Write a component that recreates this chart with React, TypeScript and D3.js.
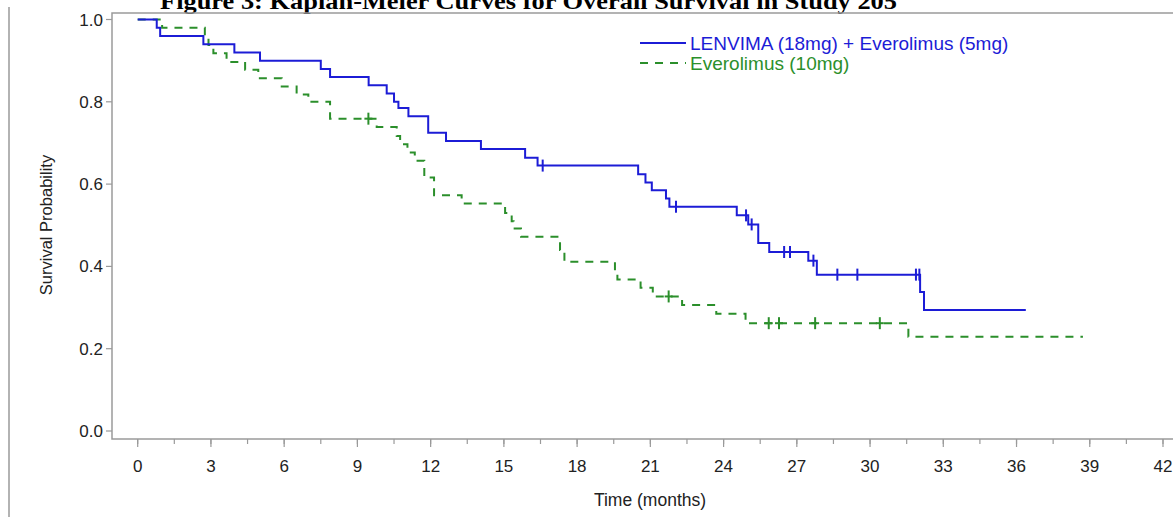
import * as d3 from 'd3';

// Kaplan-Meier steps: time (months) and survival after the event
const lenTimes = [0, 0.78, 0.92, 2.69, 3.96, 5.01, 7.5, 7.88, 9.46, 10.2, 10.5, 10.68, 11.09, 11.9, 12.63, 14.06, 15.87, 16.38, 20.5, 20.8, 21.06, 21.64, 21.78, 24.54, 25.01, 25.42, 25.87, 27.47, 27.82, 32.05, 32.21, 36.38];
const lenSurv = [1.0, 0.98, 0.96, 0.94, 0.92, 0.9, 0.88, 0.86, 0.84, 0.82, 0.8, 0.785, 0.765, 0.725, 0.705, 0.685, 0.664, 0.645, 0.624, 0.604, 0.585, 0.565, 0.545, 0.524, 0.502, 0.457, 0.435, 0.414, 0.38, 0.338, 0.294, 0.294];
const lenCensor = [16.59, 22.05, 24.92, 25.15, 26.48, 26.72, 27.68, 28.66, 29.48, 31.88, 32.02];

const eveTimes = [0, 1.0, 2.75, 2.9, 3.1, 3.64, 4.4, 4.94, 5.9, 6.51, 6.99, 7.88, 9.79, 10.61, 10.75, 11.05, 11.35, 11.74, 12.14, 13.27, 15.05, 15.32, 15.4, 15.7, 17.3, 17.48, 19.55, 19.65, 20.6, 21.1, 22.3, 23.7, 24.9, 31.57, 38.72];
const eveSurv = [1.0, 0.98, 0.958, 0.938, 0.918, 0.897, 0.878, 0.857, 0.837, 0.818, 0.8, 0.759, 0.739, 0.717, 0.697, 0.677, 0.657, 0.616, 0.573, 0.553, 0.53, 0.51, 0.492, 0.472, 0.44, 0.411, 0.39, 0.368, 0.348, 0.327, 0.306, 0.285, 0.262, 0.229, 0.229];
const eveCensor = [9.45, 21.75, 25.85, 26.27, 27.75, 30.4];

const xTicks = d3.range(0, 43, 3);
const xMinor = d3.range(0, 42.1, 1.5);
const yTicks = [0, 0.2, 0.4, 0.6, 0.8, 1.0];

const legendLabels = ['LENVIMA (18mg) + Everolimus (5mg)', 'Everolimus (10mg)'];
const title = 'Figure 3: Kaplan-Meier Curves for Overall Survival in Study 205';

const BLUE = '#1c1cd6';
const GREEN = '#2b8f2b';
const AXIS = '#9a9a9a';
const FONT = 'Arial, "Liberation Sans", sans-serif';

export default function App() {
    const x = d3.scaleLinear().domain([0, 42]).range([137.7, 1163]);
    const y = d3.scaleLinear().domain([0, 1]).range([431, 19.5]);

    const line = d3.line<[number, number]>()
        .x(d => x(d[0]))
        .y(d => y(d[1]))
        .curve(d3.curveStepAfter);

    const lenPts = lenTimes.map((t, i) => [t, lenSurv[i]] as [number, number]);
    const evePts = eveTimes.map((t, i) => [t, eveSurv[i]] as [number, number]);

    // survival at a censor time = last step at or before it
    const survAt = (times: number[], surv: number[], t: number) => {
        const i = d3.bisectRight(times, t) - 1;
        return surv[Math.max(0, i)];
    };

    const plusMark = (cx: number, cy: number, color: string, key: string) => (
        <g key={key} stroke={color} strokeWidth={2}>
            <line x1={cx} x2={cx} y1={cy - 6} y2={cy + 6} />
            <line x1={cx - 4} x2={cx + 4} y1={cy} y2={cy} />
        </g>
    );

    return (
        <svg width={1173} height={517} style={{ position: 'absolute', left: 0, top: 0, background: '#fff' }}>
            <text x={160} y={9} fontFamily='"Liberation Serif", "Times New Roman", serif' fontWeight="bold" fontSize={23} textLength={737} lengthAdjust="spacingAndGlyphs">{title}</text>

            {/* page edge */}
            <line x1={9} x2={9} y1={7} y2={517} stroke={AXIS} strokeWidth={1.5} />

            {/* frame */}
            <path d={`M1175,13 H112 V439 H1175`} fill="none" stroke={AXIS} strokeWidth={1.5} />

            {yTicks.map(v => (
                <g key={'y' + v}>
                    <line x1={106} x2={112} y1={y(v)} y2={y(v)} stroke={AXIS} strokeWidth={1.2} />
                    <text x={103} y={y(v) + 6} textAnchor="end" fontFamily={FONT} fontSize={17} fill="#222">{v.toFixed(1)}</text>
                </g>
            ))}
            <text transform={`translate(52,225) rotate(-90)`} textAnchor="middle" fontFamily={FONT} fontSize={16.5} fill="#222">Survival Probability</text>

            {xMinor.map(v => (
                <line key={'m' + v} x1={x(v)} x2={x(v)} y1={439} y2={444} stroke={AXIS} strokeWidth={1.2} />
            ))}
            {xTicks.map(v => (
                <g key={'x' + v}>
                    <line x1={x(v)} x2={x(v)} y1={439} y2={447} stroke={AXIS} strokeWidth={1.2} />
                    <text x={x(v)} y={472} textAnchor="middle" fontFamily={FONT} fontSize={17} fill="#222">{v}</text>
                </g>
            ))}
            <text x={650} y={506} textAnchor="middle" fontFamily={FONT} fontSize={17.5} fill="#222">Time (months)</text>

            <path d={line(evePts) || ''} fill="none" stroke={GREEN} strokeWidth={2} strokeDasharray="8,7" />
            <path d={line(lenPts) || ''} fill="none" stroke={BLUE} strokeWidth={2} />

            {eveCensor.map((t, i) => plusMark(x(t), y(survAt(eveTimes, eveSurv, t)), GREEN, 'ec' + i))}
            {lenCensor.map((t, i) => (
                <line key={'lc' + i} x1={x(t)} x2={x(t)} y1={y(survAt(lenTimes, lenSurv, t)) - 6} y2={y(survAt(lenTimes, lenSurv, t)) + 6} stroke={BLUE} strokeWidth={2} />
            ))}

            {/* legend */}
            <line x1={640} x2={686} y1={43} y2={43} stroke={BLUE} strokeWidth={2} />
            <text x={690} y={49.5} fontFamily={FONT} fontSize={19} fill={BLUE}>{legendLabels[0]}</text>
            <line x1={640} x2={686} y1={63} y2={63} stroke={GREEN} strokeWidth={2} strokeDasharray="8,7" />
            <text x={690} y={69.5} fontFamily={FONT} fontSize={19} fill={GREEN}>{legendLabels[1]}</text>
        </svg>
    );
}
